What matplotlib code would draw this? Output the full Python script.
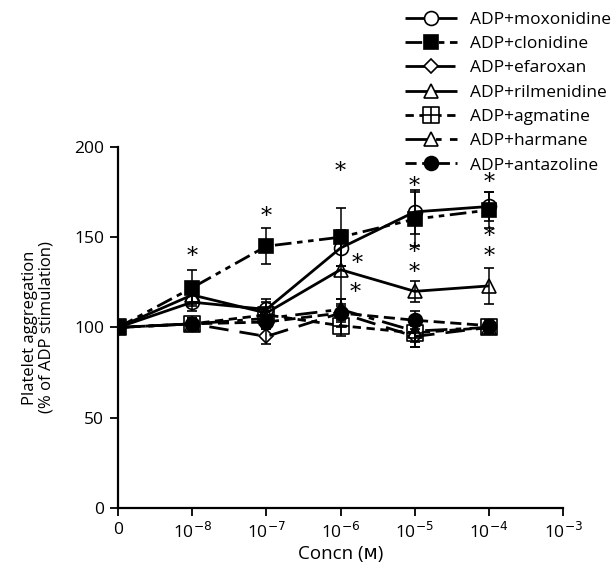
import matplotlib
matplotlib.use("Agg")
import matplotlib.pyplot as plt
from matplotlib.lines import Line2D
from matplotlib.path import Path

plt.rcParams["font.family"] = ["Open Sans", "DejaVu Sans"]

# x positions: 0, 1e-8 ... 1e-4 (log steps), axis runs to 1e-3
tick_labels = ["0", "10$^{-8}$", "10$^{-7}$", "10$^{-6}$", "10$^{-5}$", "10$^{-4}$", "10$^{-3}$"]
conc_idx = [0, 1, 2, 3, 4, 5]

moxonidine = [100, 114, 110, 144, 164, 167]
moxonidine_err = [0, 5, 6, 10, 12, 8]
clonidine = [100, 122, 145, 150, 160, 165]
clonidine_err = [0, 10, 10, 16, 15, 10]
efaroxan = [100, 102, 95, 108, 95, 100]
efaroxan_err = [0, 3, 4, 8, 6, 3]
rilmenidine = [100, 118, 108, 132, 120, 123]
rilmenidine_err = [0, 5, 6, 20, 6, 10]
agmatine = [100, 102, 107, 101, 97, 100]
agmatine_err = [0, 3, 4, 6, 8, 3]
harmane = [100, 102, 105, 110, 98, 100]
harmane_err = [0, 3, 4, 6, 6, 3]
antazoline = [100, 102, 103, 108, 104, 101]
antazoline_err = [0, 3, 4, 5, 5, 3]

# asterisk positions (x index, y value)
star_x = [1, 2, 3, 3.22, 3.2, 4, 4, 4, 5, 5, 5]
star_y = [139, 161, 186, 135, 119, 178, 141, 130, 180, 150, 139]

# square with a cross inside (agmatine marker)
boxcross = Path(
    [(-1, -1), (1, -1), (1, 1), (-1, 1), (-1, -1), (0, -1), (0, 1), (-1, 0), (1, 0)],
    [Path.MOVETO, Path.LINETO, Path.LINETO, Path.LINETO, Path.CLOSEPOLY,
     Path.MOVETO, Path.LINETO, Path.MOVETO, Path.LINETO],
)

series = [
    ("ADP+moxonidine", moxonidine, moxonidine_err, "o", False, (0, ())),
    ("ADP+clonidine", clonidine, clonidine_err, "s", True, (0, (6, 2, 2, 2, 2, 2))),
    ("ADP+efaroxan", efaroxan, efaroxan_err, "D", False, (0, (7, 4))),
    ("ADP+rilmenidine", rilmenidine, rilmenidine_err, "^", False, (0, ())),
    ("ADP+agmatine", agmatine, agmatine_err, boxcross, False, (0, (3, 2))),
    ("ADP+harmane", harmane, harmane_err, "^", False, (0, (8, 3, 2, 3))),
    ("ADP+antazoline", antazoline, antazoline_err, "o", True, (0, (4, 2))),
]

fig = plt.figure(figsize=(6.16, 5.76), dpi=100)
ax = fig.add_axes([0.1916, 0.118, 0.7224, 0.627])

handles = []
for label, vals, err, mk, filled, ls in series:
    if isinstance(mk, str) and mk == "D":
        ms = 7
    elif isinstance(mk, Path):
        ms = 11
    else:
        ms = 10
    fc = "black" if filled else "none"
    ax.errorbar(conc_idx, vals, yerr=err, color="black", linestyle=ls, linewidth=2,
                marker=mk, markersize=ms, markerfacecolor=fc, markeredgecolor="black",
                markeredgewidth=1.2, capsize=3.5, elinewidth=1.1, zorder=3)
    handles.append(Line2D([], [], color="black", linestyle=ls, linewidth=2, marker=mk,
                          markersize=ms, markerfacecolor="black" if filled else "white",
                          markeredgecolor="black", markeredgewidth=1.2, label=label))

for sx, sy in zip(star_x, star_y):
    ax.text(sx, sy, "*", ha="center", va="center", fontsize=16, family="DejaVu Serif")

ax.set_xlim(0, 6)
ax.set_ylim(0, 200)
ax.set_xticks(range(7))
ax.set_xticklabels(tick_labels)
ax.set_yticks([0, 50, 100, 150, 200])
ax.tick_params(axis="both", labelsize=12.5, direction="out", length=6, width=1.3, pad=4)
for side in ["top", "right"]:
    ax.spines[side].set_visible(False)
for side in ["left", "bottom"]:
    ax.spines[side].set_linewidth(1.6)

ax.set_xlabel("Concn (ᴍ)", fontsize=13.5, labelpad=2)
ax.set_ylabel("Platelet aggregation\n(% of ADP stimulation)", fontsize=12, labelpad=14,
              linespacing=1.05)

fig.legend(handles=handles, loc="upper left", bbox_to_anchor=(0.6575, 0.98),
           frameon=False, fontsize=12.5, handlelength=3.0, labelspacing=0.47,
           handletextpad=0.75, borderaxespad=0, borderpad=0)

fig.savefig("out.png", dpi=100)
